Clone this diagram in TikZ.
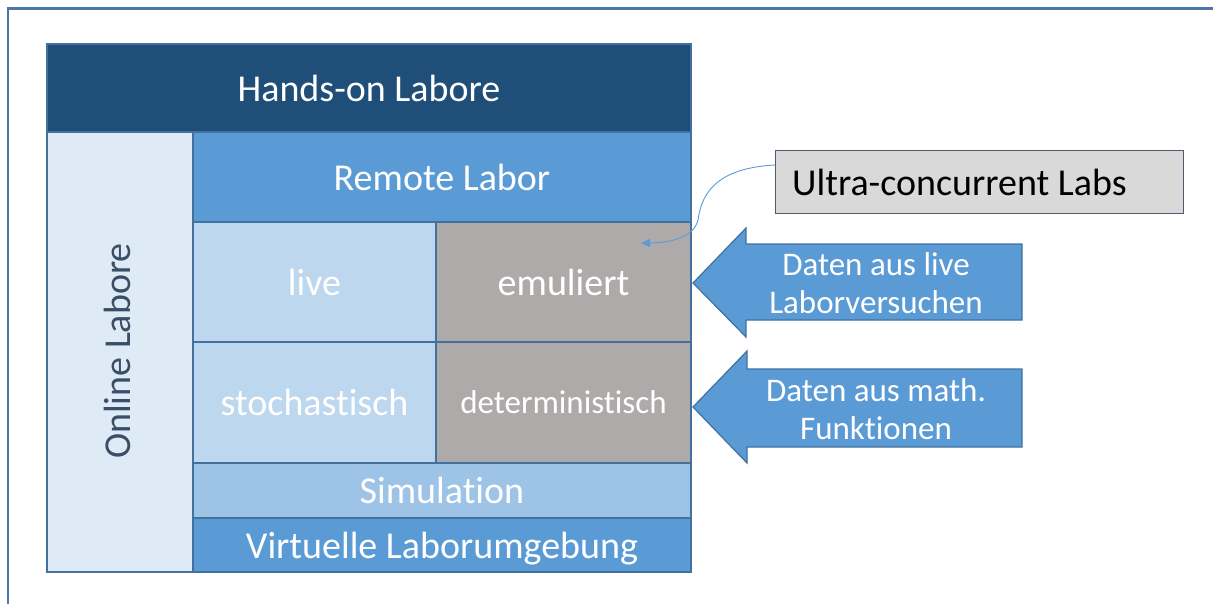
\documentclass[tikz,border=0pt]{standalone}
\usepackage{fontspec}
\setmainfont[Ligatures={NoCommon,NoContextual,NoRequired}]{Carlito}
\usetikzlibrary{arrows.meta}
\definecolor{frame}{RGB}{74,118,168}
\definecolor{edge}{RGB}{65,113,156}
\definecolor{dark}{RGB}{31,78,121}
\definecolor{mid}{RGB}{91,155,213}
\definecolor{light}{RGB}{189,215,238}
\definecolor{lighter}{RGB}{157,195,230}
\definecolor{pale}{RGB}{222,235,247}
\definecolor{greycell}{RGB}{174,170,170}
\definecolor{slate}{RGB}{59,78,104}
\definecolor{boxgrey}{RGB}{217,217,217}
\definecolor{boxedge}{RGB}{80,90,110}
\tikzset{
  x=1pt, y=-1pt,
  cell/.style={draw=edge, line width=1.5pt, inner sep=0pt, outer sep=0pt, anchor=north west, text=white, font=\fontsize{38}{40}\selectfont},
  blockarrow/.style={fill=mid, draw=edge, line width=1.2pt},
  arrowtext/.style={text=white, font=\fontsize{33}{40}\selectfont, align=center},
}
\begin{document}
\begin{tikzpicture}
\useasboundingbox (0,0) rectangle (1213,603);
\fill[white] (0,0) rectangle (1213,603);
\begin{scope}
\clip (0,0) rectangle (1213,603);
\draw[frame, line width=2.5pt] (8,620) -- (8,8.5) -- (1230,8.5);
\end{scope}
% cells
\node[cell, fill=dark, minimum width=644pt, minimum height=88pt] (hands) at (47,44) {Hands-on Labore};
\node[cell, fill=pale, minimum width=146pt, minimum height=440pt] (online) at (47,132) {};
\node[text=slate, rotate=90, font=\fontsize{38}{40}\selectfont] (onlinetxt) at (117,351) {Online Labore};
\node[cell, fill=mid, minimum width=498pt, minimum height=90pt] (remote) at (193,132) {Remote Labor};
\node[cell, fill=light, minimum width=243pt, minimum height=120pt] (live) at (193,222) {live};
\node[cell, fill=greycell, minimum width=255pt, minimum height=120pt] (emu) at (436,222) {emuliert};
\node[cell, fill=light, minimum width=243pt, minimum height=121pt] (stoch) at (193,342) {stochastisch};
\node[cell, fill=greycell, minimum width=255pt, minimum height=121pt, font=\fontsize{33}{40}\selectfont] (det) at (436,342) {deterministisch};
\node[cell, fill=lighter, minimum width=498pt, minimum height=55pt] (sim) at (193,463) {Simulat\kern0pt ion};
\node[cell, fill=mid, minimum width=498pt, minimum height=54pt] (virt) at (193,518) {};
\node[text=white, font=\fontsize{38}{40}\selectfont] (virttxt) at (442,549) {Virtuelle Laborumgebung};
% ultra-concurrent box
\node[draw=boxedge, fill=boxgrey, line width=1.2pt, minimum width=408pt, minimum height=63pt, anchor=north west, inner sep=0pt] (ultra) at (775,150) {};
\node[anchor=west, inner sep=0pt, font=\fontsize{38}{40}\selectfont] (ultratxt) at (792,182) {Ultra-concurrent Labs};
\coordinate (utip) at (641,243);
\draw[mid, line width=0.9pt, -{Triangle[length=9pt,width=8pt]}] (ultra.west |- 0,165) .. controls (720,168) and (702,190) .. (698,220) .. controls (694,238) and (668,243) .. (utip);
% block arrows
\draw[blockarrow] (693,283) -- (746,228) -- (746,244) -- (1022,244) -- (1022,320) -- (746,320) -- (746,337) -- cycle;
\node[arrowtext] (a1) at (876,283) {Daten aus live\\[-2pt]Laborversuchen};
\draw[blockarrow] (693,407) -- (747,351) -- (747,369) -- (1022,369) -- (1022,447) -- (747,447) -- (747,463) -- cycle;
\node[arrowtext] (a2) at (876,409) {Daten aus math.\\[-2pt]Funkt\kern0pt ionen};
\end{tikzpicture}
\end{document}
